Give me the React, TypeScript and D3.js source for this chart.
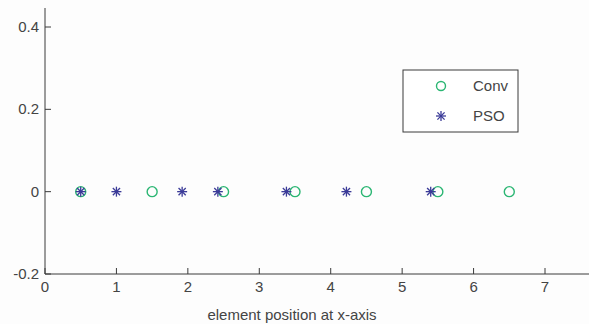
import React from "react";
import * as d3 from "d3";

const convX = [0.5, 1.5, 2.5, 3.5, 4.5, 5.5, 6.5];
const convY = [0, 0, 0, 0, 0, 0, 0];
const psoX = [0.5, 1.0, 1.92, 2.42, 3.38, 4.22, 5.4];
const psoY = [0, 0, 0, 0, 0, 0, 0];
const xTicks = [0, 1, 2, 3, 4, 5, 6, 7];
const yTicks = [-0.2, 0, 0.2, 0.4];
const yTickLabels = ["-0.2", "0", "0.2", "0.4"];
const seriesNames = ["Conv", "PSO"];
const xLabel = "element position at x-axis";

const W = 589, H = 324;
const left = 45, bottom = 274;
const green = "#2bb673";
const blue = "#3b3b98";
const axisColor = "#3a3a3a";
const textColor = "#444";

function Star({ cx, cy, r }: { cx: number; cy: number; r: number }) {
  const d = r * 0.72;
  return (
    <g stroke={blue} strokeWidth={1.3}>
      <line x1={cx - r} y1={cy} x2={cx + r} y2={cy} />
      <line x1={cx} y1={cy - r} x2={cx} y2={cy + r} />
      <line x1={cx - d} y1={cy - d} x2={cx + d} y2={cy + d} />
      <line x1={cx - d} y1={cy + d} x2={cx + d} y2={cy - d} />
    </g>
  );
}

export default function App() {
  const x = d3.scaleLinear().domain([0, 7]).range([left, 545]);
  const y = d3.scaleLinear().domain([-0.2, 0.4]).range([bottom, 27]);
  const top = 8;
  const font = "'Liberation Sans', Arial, sans-serif";
  const fs = 15;
  return (
    <svg width={W} height={H} style={{ position: "absolute", left: 0, top: 0 }}>
      <rect width={W} height={H} fill="#fdfdfd" />
      <line x1={left} y1={top} x2={left} y2={bottom} stroke={axisColor} strokeWidth={1} />
      <line x1={left} y1={bottom} x2={W} y2={bottom} stroke={axisColor} strokeWidth={1} />
      {xTicks.map((t) => (
        <g key={"x" + t}>
          <line x1={x(t)} y1={bottom} x2={x(t)} y2={bottom - 6} stroke={axisColor} />
          <text x={x(t)} y={bottom + 18} textAnchor="middle" fontFamily={font} fontSize={fs} fill={textColor}>
            {t}
          </text>
        </g>
      ))}
      {yTicks.map((t, i) => (
        <g key={"y" + t}>
          <line x1={left} y1={y(t)} x2={left + 6} y2={y(t)} stroke={axisColor} />
          <text x={left - 6} y={y(t) + 5} textAnchor="end" fontFamily={font} fontSize={fs} fill={textColor}>
            {yTickLabels[i]}
          </text>
        </g>
      ))}
      <text x={292} y={320} textAnchor="middle" fontFamily={font} fontSize={fs} fill={textColor}>
        {xLabel}
      </text>
      {convX.map((v, i) => (
        <circle key={"c" + i} cx={x(v)} cy={y(convY[i])} r={5} fill="none" stroke={green} strokeWidth={1.4} />
      ))}
      {psoX.map((v, i) => (
        <Star key={"s" + i} cx={x(v)} cy={y(psoY[i])} r={5} />
      ))}
      <rect x={403} y={70} width={115} height={62} fill="#fff" stroke={axisColor} strokeWidth={1} />
      <circle cx={441} cy={86} r={4.5} fill="none" stroke={green} strokeWidth={1.4} />
      <Star cx={441} cy={116} r={5} />
      <text x={473} y={91} fontFamily={font} fontSize={fs} fill={textColor}>{seriesNames[0]}</text>
      <text x={473} y={121} fontFamily={font} fontSize={fs} fill={textColor}>{seriesNames[1]}</text>
    </svg>
  );
}
